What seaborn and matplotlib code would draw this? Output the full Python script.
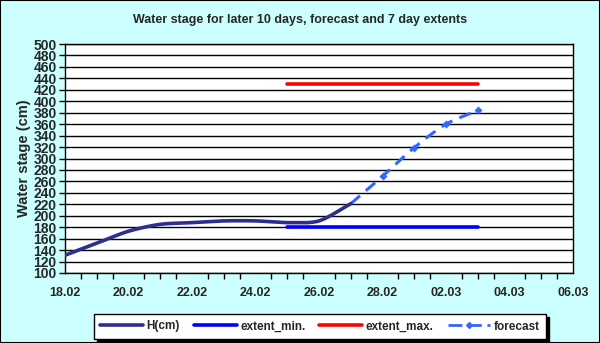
import numpy as np
import pandas as pd
import matplotlib
matplotlib.use("Agg")
import matplotlib.pyplot as plt
import seaborn as sns
from matplotlib.lines import Line2D
from matplotlib.patches import Rectangle

# ---- data ----
h_dates = ["18.02", "19.02", "20.02", "21.02", "22.02", "23.02", "24.02", "25.02", "26.02", "27.02"]
h_values = [131, 152, 173, 185, 188, 191, 191, 188, 191, 221]

fc_dates = ["27.02", "28.02", "01.03", "02.03", "03.03"]
fc_values = [221, 269, 319, 360, 384]

ext_dates = ["25.02", "03.03"]
ext_min = [180, 180]
ext_max = [430, 430]

xtick_labels = ["18.02", "20.02", "22.02", "24.02", "26.02", "28.02", "02.03", "04.03", "06.03"]
title = "Water stage for later 10 days, forecast and 7 day extents"
ylabel = "Water stage (cm)"

YEAR = 2023


def to_dt(lst):
    return pd.to_datetime([f"{d}.{YEAR}" for d in lst], format="%d.%m.%Y")


def smooth(dates, vals, n=20):
    # Catmull-Rom rendering of the line (like a spreadsheet "smoothed line")
    x = matplotlib.dates.date2num(to_dt(dates))
    y = np.asarray(vals, float)
    if len(x) < 3:
        return x, y
    px = np.concatenate([[2 * x[0] - x[1]], x, [2 * x[-1] - x[-2]]])
    py = np.concatenate([[2 * y[0] - y[1]], y, [2 * y[-1] - y[-2]]])
    xs, ys = [], []
    for i in range(1, len(px) - 2):
        t = np.linspace(0, 1, n, endpoint=False)
        for arr, out in ((px, xs), (py, ys)):
            p0, p1, p2, p3 = arr[i - 1], arr[i], arr[i + 1], arr[i + 2]
            m1 = (p2 - p0) / 2 * 0.85
            m2 = (p3 - p1) / 2 * 0.85
            h00 = 2 * t**3 - 3 * t**2 + 1
            h10 = t**3 - 2 * t**2 + t
            h01 = -2 * t**3 + 3 * t**2
            h11 = t**3 - t**2
            out.extend(h00 * p1 + h10 * m1 + h01 * p2 + h11 * m2)
    xs.append(x[-1]); ys.append(y[-1])
    return np.array(xs), np.array(ys)


sns.set_theme(style="white")
plt.rcParams["font.family"] = ["Liberation Sans", "DejaVu Sans"]
plt.rcParams["font.weight"] = "bold"

BG = "#CCFFFF"
NAVY = "#2E2E8F"
BLUE = "#0000FF"
RED = "#FF0000"
FC = "#3366FF"

fig = plt.figure(figsize=(6, 3.43), dpi=100, facecolor=BG)
ax = fig.add_axes([65 / 600, 70 / 343, 508 / 600, 229 / 343])
ax.set_facecolor("white")

# forecast (dashed) first so H overlays it
fx, fy = smooth(fc_dates, fc_values)
sns.lineplot(x=matplotlib.dates.num2date(fx), y=fy, ax=ax, color=FC, lw=2.2,
             linestyle=(0, (4, 2.5)), sort=False, estimator=None)
sns.scatterplot(x=to_dt(fc_dates)[1:], y=fc_values[1:], ax=ax, color=FC, marker="D",
                s=14, edgecolor=FC, zorder=5)

hx, hy = smooth(h_dates, h_values)
sns.lineplot(x=matplotlib.dates.num2date(hx), y=hy, ax=ax, color=NAVY, lw=2.6,
             sort=False, estimator=None, zorder=4)

sns.lineplot(x=to_dt(ext_dates), y=ext_min, ax=ax, color=BLUE, lw=2.6, zorder=3,
             solid_capstyle="round")
sns.lineplot(x=to_dt(ext_dates), y=ext_max, ax=ax, color=RED, lw=2.6, zorder=3,
             solid_capstyle="round")

# axes
ax.set_ylim(100, 500)
ax.set_yticks(np.arange(100, 501, 20))
ax.set_xlim(to_dt(["18.02"])[0], to_dt(["06.03"])[0])
ax.set_xticks(to_dt(xtick_labels))
ax.set_xticklabels(xtick_labels)
ax.xaxis.set_minor_locator(matplotlib.dates.HourLocator(byhour=[0, 12]))
ax.grid(axis="y", color="black", lw=1.0)
ax.set_axisbelow(True)
for s in ax.spines.values():
    s.set_color("black")
    s.set_linewidth(1.0)
ax.tick_params(axis="x", which="major", direction="out", length=4, width=1,
               color="black", labelsize=9, pad=6)
ax.tick_params(axis="x", which="minor", direction="out", length=4, width=1,
               color="black", bottom=True)
ax.tick_params(axis="y", direction="out", length=4, width=1, color="black",
               labelsize=10, pad=2, left=True)
for lab in ax.get_xticklabels() + ax.get_yticklabels():
    lab.set_fontweight("bold")
ax.set_ylabel(ylabel, fontsize=10.5, fontweight="bold", labelpad=2)
ax.set_xlabel("")

fig.text(0.5, 1 - 20 / 343, title, ha="center", va="center", fontsize=9,
         fontweight="bold")

# legend
handles = [
    Line2D([], [], color=NAVY, lw=2.6),
    Line2D([], [], color=BLUE, lw=2.6),
    Line2D([], [], color=RED, lw=2.6),
    Line2D([], [], color=FC, lw=2, linestyle=(0, (5, 2)), marker="D", markersize=3),
]
labels = ["H(cm)", "extent_min.", "extent_max.", "forecast"]
# shadow
lx0, ly0, lw_, lh_ = 94 / 600, (343 - 339) / 343, 452 / 600, 25 / 343
fig.patches.append(Rectangle((lx0 + 3 / 600, ly0 - 3 / 343), lw_, lh_, transform=fig.transFigure,
                             facecolor="black", edgecolor="black", zorder=1))
fig.patches.append(Rectangle((lx0, ly0), lw_, lh_, transform=fig.transFigure,
                             facecolor="white", edgecolor="black", lw=1, zorder=2))
leg = fig.legend(handles, labels, loc="center", bbox_to_anchor=(lx0 + lw_ / 2, ly0 + lh_ / 2),
                 ncol=4, frameon=False, fontsize=8.5, handlelength=3.6, columnspacing=1.2,
                 handletextpad=0.3, prop={"weight": "bold", "size": 8.5})

# figure border
fig.patches.append(Rectangle((0, 0), 1, 1, transform=fig.transFigure, fill=False,
                             edgecolor="black", lw=1.5, zorder=10))

fig.savefig("out.png", dpi=100, facecolor=BG)
